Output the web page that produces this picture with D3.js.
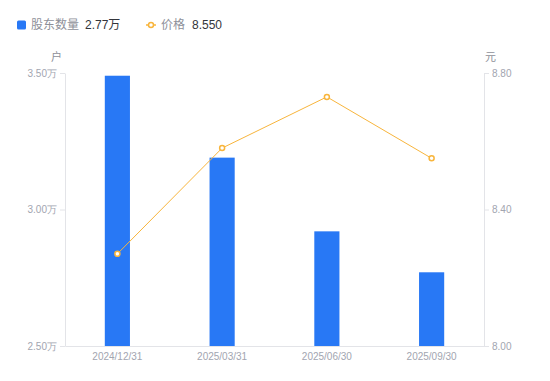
<!DOCTYPE html>
<html>
<head>
<meta charset="utf-8">
<script src="https://cdn.jsdelivr.net/npm/d3@7"></script>
<style>
  html, body { margin: 0; padding: 0; background: #fff; }
  svg { display: block; font-family: "Liberation Sans", Arial, "Noto Sans CJK SC", sans-serif; }
</style>
</head>
<body>
<div id="chart"></div>
<script>
// chart data
const categories = ['2024/12/31', '2025/03/31', '2025/06/30', '2025/09/30'];
const holders = [3.49, 3.19, 2.92, 2.77];      // 股东数量, 万户
const prices = [8.27, 8.58, 8.73, 8.55];       // 价格, 元
const leftTicks = [2.5, 3.0, 3.5];
const rightTicks = [8.0, 8.4, 8.8];

const width = 550, height = 381;
const margin = {top: 73, right: 66, bottom: 35, left: 65};
const innerW = width - margin.left - margin.right,
      innerH = height - margin.top - margin.bottom;

const blue = '#2878f5', orange = '#f8b53c';
const axisColor = '#e3e4e8', tickText = '#a2a5b0';

const svg = d3.select('#chart').append('svg')
  .attr('width', width)
  .attr('height', height);

const g = svg.append('g')
  .attr('transform', `translate(${margin.left},${margin.top})`);

const x = d3.scaleBand().domain(categories).range([0, innerW]);
const yL = d3.scaleLinear().domain([2.5, 3.5]).range([innerH, 0]);
const yR = d3.scaleLinear().domain([8.0, 8.8]).range([innerH, 0]);

// bottom axis
const xAxis = g.append('g')
  .attr('transform', `translate(0,${innerH})`)
  .call(d3.axisBottom(x).tickSize(0).tickPadding(7));
xAxis.select('.domain').attr('stroke', axisColor);
xAxis.selectAll('text').attr('fill', tickText).style('font-size', '10px');

// left axis
const leftAxis = g.append('g')
  .call(d3.axisLeft(yL).tickValues(leftTicks).tickSize(5).tickSizeOuter(0).tickPadding(3)
    .tickFormat(d => d3.format('.2f')(d) + '万'));
leftAxis.select('.domain').attr('stroke', axisColor);
leftAxis.selectAll('line').attr('stroke', axisColor);
leftAxis.selectAll('text').attr('fill', tickText).style('font-size', '10px');

// right axis
const rightAxis = g.append('g')
  .attr('transform', `translate(${innerW},0)`)
  .call(d3.axisRight(yR).tickValues(rightTicks).tickSize(5).tickSizeOuter(0).tickPadding(3)
    .tickFormat(d3.format('.2f')));
rightAxis.select('.domain').attr('stroke', axisColor);
rightAxis.selectAll('line').attr('stroke', axisColor);
rightAxis.selectAll('text').attr('fill', tickText).style('font-size', '10px');

// unit labels
g.append('text')
  .attr('x', -3).attr('y', -12)
  .attr('text-anchor', 'end')
  .attr('fill', '#8e9099')
  .style('font-size', '11px')
  .text('户');
g.append('text')
  .attr('x', innerW + 1).attr('y', -12)
  .attr('fill', '#8e9099')
  .style('font-size', '11px')
  .text('元');

// bars
const barW = x.bandwidth() * 0.24;
g.selectAll('.bar')
  .data(holders)
  .enter().append('rect')
    .attr('class', 'bar')
    .attr('x', (d, i) => x(categories[i]) + x.bandwidth() / 2 - barW / 2)
    .attr('y', d => yL(d))
    .attr('width', barW)
    .attr('height', d => innerH - yL(d))
    .attr('fill', blue);

// price line
const line = d3.line()
  .x((d, i) => x(categories[i]) + x.bandwidth() / 2)
  .y(d => yR(d));

g.append('path')
  .datum(prices)
  .attr('d', line)
  .attr('fill', 'none')
  .attr('stroke', orange)
  .attr('stroke-width', 1);

g.selectAll('.pt')
  .data(prices)
  .enter().append('circle')
    .attr('class', 'pt')
    .attr('cx', (d, i) => x(categories[i]) + x.bandwidth() / 2)
    .attr('cy', d => yR(d))
    .attr('r', 2.5)
    .attr('fill', '#fff')
    .attr('stroke', orange)
    .attr('stroke-width', 1.5);

// legend
const legend = svg.append('g').style('font-size', '12px');
legend.append('rect')
  .attr('x', 17).attr('y', 20.5)
  .attr('width', 9).attr('height', 9)
  .attr('rx', 1.5)
  .attr('fill', blue);
legend.append('text')
  .attr('x', 31).attr('y', 29)
  .attr('fill', '#8e9099')
  .text('股东数量');
legend.append('text')
  .attr('x', 85).attr('y', 29)
  .attr('fill', '#33353b')
  .text(d3.format('.2f')(holders[holders.length - 1]) + '万');

legend.append('line')
  .attr('x1', 146).attr('x2', 156)
  .attr('y1', 25).attr('y2', 25)
  .attr('stroke', orange).attr('stroke-width', 1.5);
legend.append('circle')
  .attr('cx', 151).attr('cy', 25).attr('r', 2.5)
  .attr('fill', '#fff')
  .attr('stroke', orange).attr('stroke-width', 1.5);
legend.append('text')
  .attr('x', 161).attr('y', 29)
  .attr('fill', '#8e9099')
  .text('价格');
legend.append('text')
  .attr('x', 192).attr('y', 29)
  .attr('fill', '#33353b')
  .text(d3.format('.3f')(prices[prices.length - 1]));
</script>
</body>
</html>
